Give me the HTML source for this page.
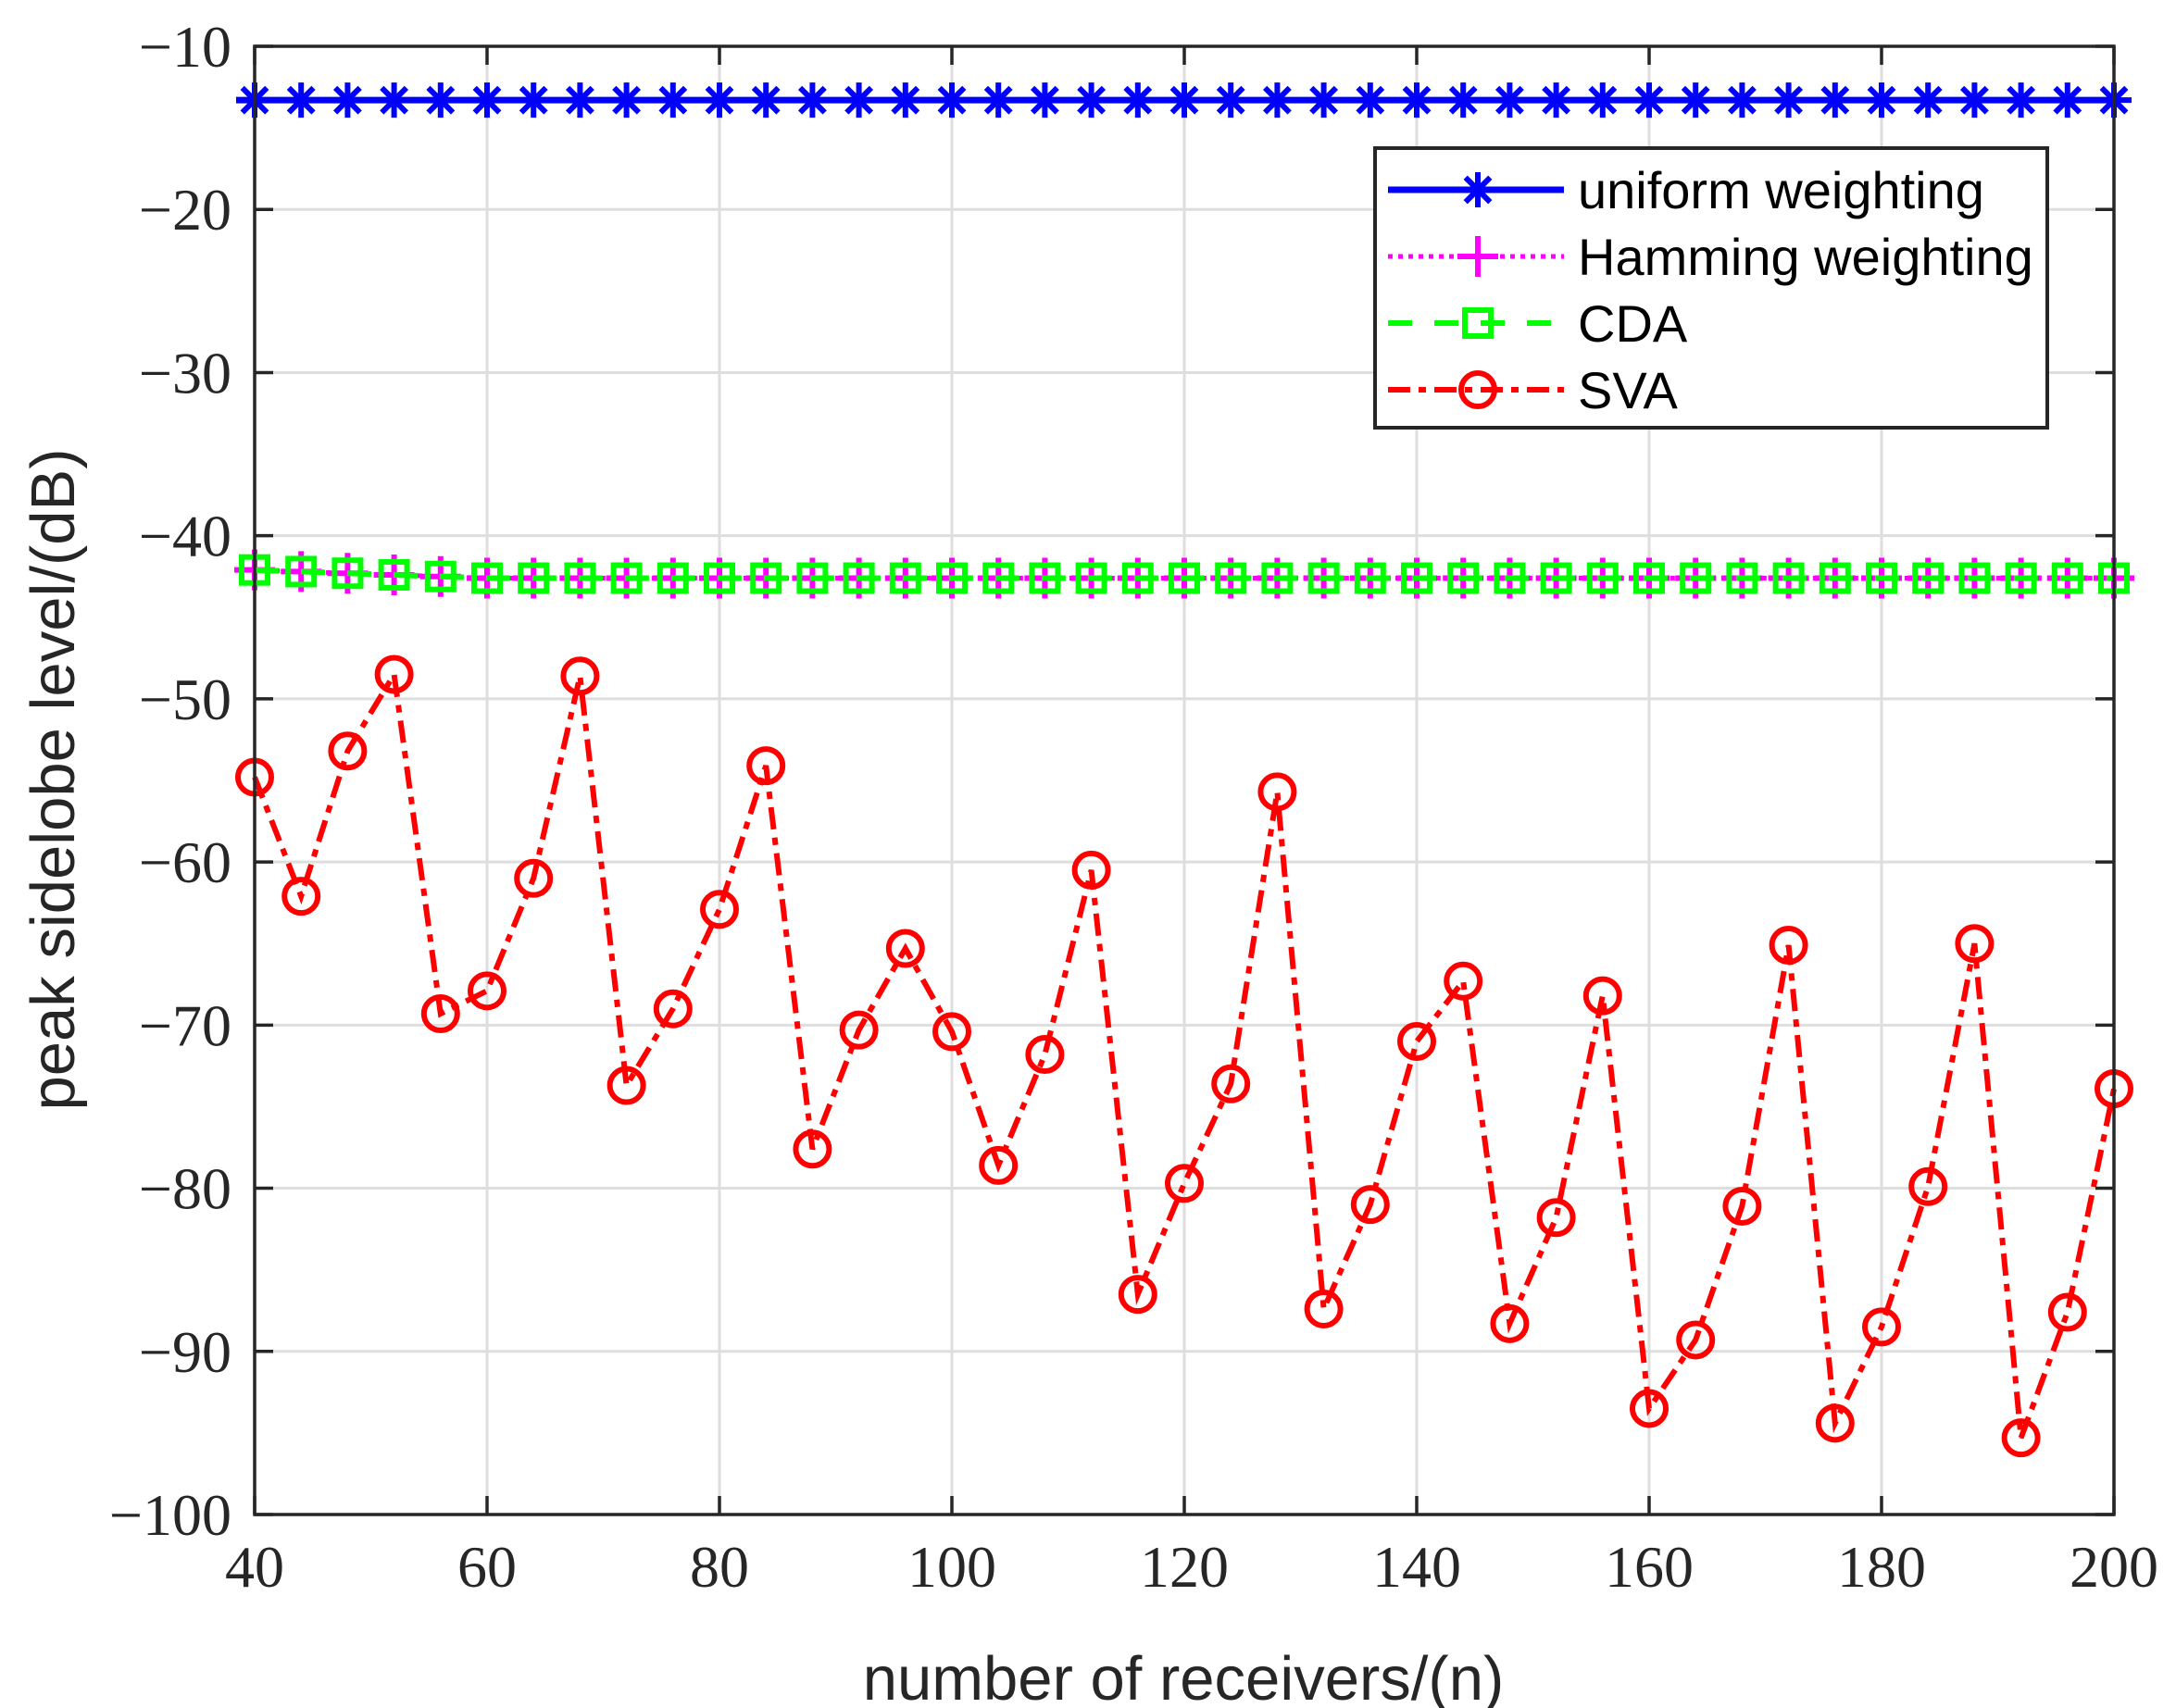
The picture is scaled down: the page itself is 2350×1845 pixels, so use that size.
<!DOCTYPE html>
<html><head><meta charset="utf-8"><style>
html,body{margin:0;padding:0;background:#fff;}
svg{display:block;}
</style></head><body>
<svg id="s" width="2350" height="1845" xmlns="http://www.w3.org/2000/svg">
<rect width="2350" height="1845" fill="#fff"/>
<g id="grid"></g>
<g id="data"></g>
<g id="axes"></g>
</svg>
<script>
const NS="http://www.w3.org/2000/svg";
const L=275,R=2283,T=50,B=1636;
const X=v=>L+(v-40)/160*(R-L);
const Y=v=>T+(-10-v)/90*(B-T);
function el(p,tag,a,txt){const e=document.createElementNS(NS,tag);for(const k in a)e.setAttribute(k,a[k]);if(txt!==undefined)e.textContent=txt;p.appendChild(e);return e;}
const g=document.getElementById('grid'),d=document.getElementById('data'),ax=document.getElementById('axes');
for(let v=60;v<200;v+=20)el(g,'line',{x1:X(v),x2:X(v),y1:T,y2:B,stroke:'#dedede','stroke-width':3});
for(let v=-20;v>-100;v-=10)el(g,'line',{x1:L,x2:R,y1:Y(v),y2:Y(v),stroke:'#dedede','stroke-width':3});
const xs=[];for(let v=40;v<=200;v+=4)xs.push(v);
const sva=[-54.8,-62.1,-53.2,-48.5,-69.3,-67.9,-61.0,-48.6,-73.7,-69.0,-62.9,-54.1,-77.6,-70.3,-65.3,-70.4,-78.6,-71.8,-60.5,-86.5,-79.7,-73.6,-55.7,-87.4,-81.0,-71.0,-67.3,-88.3,-81.8,-68.2,-93.5,-89.3,-81.1,-65.1,-94.4,-88.5,-79.9,-65.0,-95.3,-87.6,-73.9];
const ham=xs.map((v,i)=>i<5?-42.1-i*0.1:-42.6);
const pts=a=>xs.map((v,i)=>X(v).toFixed(1)+','+Y(a[i]).toFixed(1)).join(' ');
function star(p,x,y,s,c){const r=s;el(p,'path',{d:`M${x-r},${y}H${x+r}M${x},${y-r}V${y+r}M${x-r*.7},${y-r*.7}L${x+r*.7},${y+r*.7}M${x-r*.7},${y+r*.7}L${x+r*.7},${y-r*.7}`,stroke:c,'stroke-width':6,fill:'none'});}
function plus(p,x,y,s,c){el(p,'path',{d:`M${x-s},${y}H${x+s}M${x},${y-s}V${y+s}`,stroke:c,'stroke-width':6,fill:'none'});}
function sq(p,x,y,s,c){el(p,'rect',{x:x-s,y:y-s,width:2*s,height:2*s,stroke:c,'stroke-width':6,fill:'none'});}
function circ(p,x,y,s,c){el(p,'circle',{cx:x,cy:y,r:s,stroke:c,'stroke-width':6,fill:'none'});}
el(d,'polyline',{points:pts(ham),fill:'none',stroke:'#f0f','stroke-width':5,'stroke-dasharray':'5 6'});
xs.forEach((v,i)=>plus(d,X(v),Y(ham[i]),22,'#f0f'));
el(d,'polyline',{points:pts(ham),fill:'none',stroke:'#0f0','stroke-width':6,'stroke-dasharray':'26 24'});
xs.forEach((v,i)=>sq(d,X(v),Y(ham[i]),14,'#0f0'));
el(d,'polyline',{points:pts(sva),fill:'none',stroke:'#f00','stroke-width':6,'stroke-dasharray':'24 9 8 9'});
xs.forEach((v,i)=>circ(d,X(v),Y(sva[i]),18,'#f00'));
el(d,'line',{x1:L-20,x2:R+4,y1:Y(-13.3),y2:Y(-13.3),stroke:'#00f','stroke-width':7});
xs.forEach(v=>star(d,X(v),Y(-13.3),19,'#00f'));
el(ax,'rect',{x:L,y:T,width:R-L,height:B-T,fill:'none',stroke:'#262626','stroke-width':3.5});
for(let v=40;v<=200;v+=20){const x=X(v);
 el(ax,'line',{x1:x,x2:x,y1:B,y2:B-20,stroke:'#262626','stroke-width':3.5});
 el(ax,'line',{x1:x,x2:x,y1:T,y2:T+20,stroke:'#262626','stroke-width':3.5});
 el(ax,'text',{x:x,y:1714,'text-anchor':'middle','font-family':'Liberation Serif, serif','font-size':64,fill:'#262626'},String(v));}
for(let v=-10;v>=-100;v-=10){const y=Y(v);
 el(ax,'line',{x1:L,x2:L+20,y1:y,y2:y,stroke:'#262626','stroke-width':3.5});
 el(ax,'line',{x1:R,x2:R-20,y1:y,y2:y,stroke:'#262626','stroke-width':3.5});
 el(ax,'text',{x:250,y:y+22,'text-anchor':'end','font-family':'Liberation Serif, serif','font-size':64,fill:'#262626'},'\u2212'+(-v));}
el(ax,'text',{x:1278,y:1836,'text-anchor':'middle','font-family':'Liberation Sans, sans-serif','font-size':67,fill:'#262626'},'number of receivers/(n)');
el(ax,'text',{x:0,y:0,transform:'translate(80,842) rotate(-90)','text-anchor':'middle','font-family':'Liberation Sans, sans-serif','font-size':67,fill:'#262626'},'peak sidelobe level/(dB)');
// legend
el(ax,'rect',{x:1485,y:160,width:726,height:302,fill:'#fff',stroke:'#262626','stroke-width':4});
const ly=[205,277,349,421],names=['uniform weighting','Hamming weighting','CDA','SVA'];
const lx1=1499,lx2=1689,mx=1596;
el(ax,'line',{x1:lx1,x2:lx2,y1:ly[0],y2:ly[0],stroke:'#00f','stroke-width':7});star(ax,mx,ly[0],19,'#00f');
el(ax,'line',{x1:lx1,x2:lx2,y1:ly[1],y2:ly[1],stroke:'#f0f','stroke-width':5,'stroke-dasharray':'5 6'});plus(ax,mx,ly[1],22,'#f0f');
el(ax,'line',{x1:lx1,x2:lx2,y1:ly[2],y2:ly[2],stroke:'#0f0','stroke-width':6,'stroke-dasharray':'26 24'});sq(ax,mx,ly[2],14,'#0f0');
el(ax,'line',{x1:lx1,x2:lx2,y1:ly[3],y2:ly[3],stroke:'#f00','stroke-width':6,'stroke-dasharray':'24 9 8 9'});circ(ax,mx,ly[3],18,'#f00');
names.forEach((n,i)=>el(ax,'text',{x:1704,y:ly[i]+20,'font-family':'Liberation Sans, sans-serif','font-size':56,fill:'#000'},n));
</script>
</body></html>
